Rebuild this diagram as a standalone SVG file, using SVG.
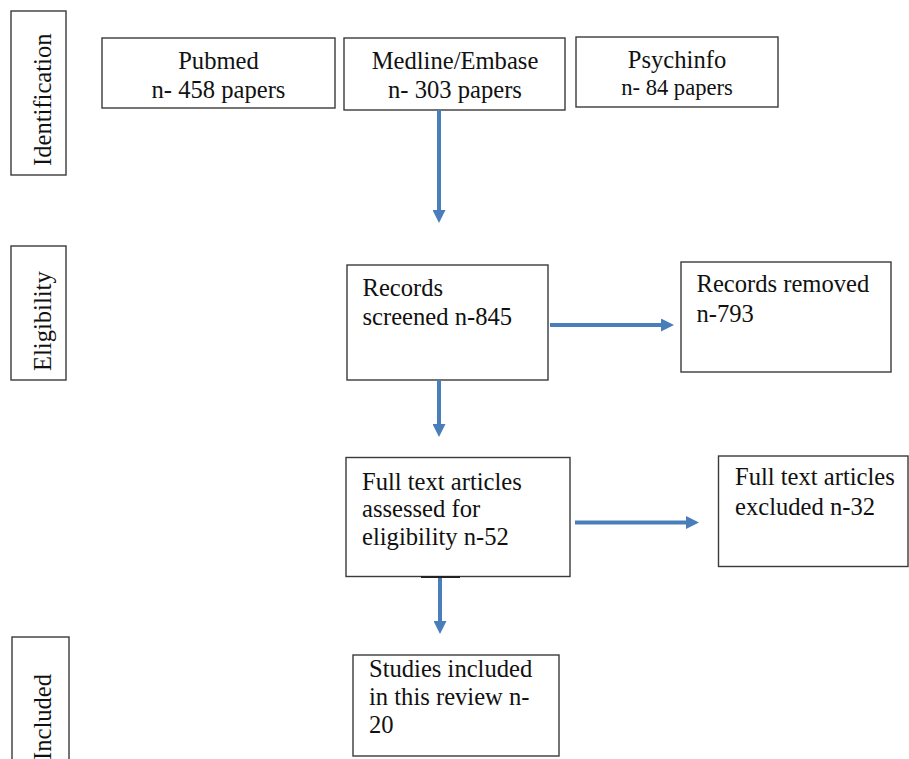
<svg xmlns="http://www.w3.org/2000/svg" width="909" height="759" viewBox="0 0 909 759">
<defs>
<style>
.box{fill:#ffffff;stroke:#3a3a3a;stroke-width:1.4}
.t{font-size:24.6px;fill:#111111}
.c{text-anchor:middle}
.conn{stroke:#4A7EBB;stroke-width:4;fill:none}
</style>
<marker id="ah" markerUnits="userSpaceOnUse" markerWidth="13" markerHeight="13" viewBox="0 0 12 12" refX="0" refY="6" orient="auto">
<path d="M0,0 L12,6 L0,12 z" fill="#4A7EBB"/>
</marker>
</defs>
<rect width="909" height="759" fill="#ffffff"/>
<g font-family="Liberation Serif, Tinos, Times New Roman, DejaVu Serif, serif">
<g id="stage-identification">
<rect class="box" x="11" y="11" width="55" height="164"/>
<text class="t" transform="translate(51,166) rotate(-90)">Identification</text>
</g>
<g id="stage-eligibility">
<rect class="box" x="11" y="246" width="55" height="134"/>
<text class="t" transform="translate(51,371) rotate(-90)">Eligibility</text>
</g>
<g id="stage-included">
<rect class="box" x="12" y="637" width="57" height="130"/>
<text class="t" transform="translate(51,760) rotate(-90)">Included</text>
</g>

<g id="pubmed">
<rect class="box" x="102" y="38" width="233" height="70"/>
<text class="t c" x="218.5" y="69">Pubmed</text>
<text class="t c" x="218.5" y="98">n- 458 papers</text>
</g>
<g id="medline">
<rect class="box" x="344" y="38" width="221" height="72"/>
<text class="t c" x="455" y="69">Medline/Embase</text>
<text class="t c" x="455" y="98">n- 303 papers</text>
</g>
<g id="psychinfo">
<rect class="box" x="576" y="37" width="202" height="70"/>
<text class="t c" x="677" y="68">Psychinfo</text>
<text class="t c" x="677" y="95" style="font-size:22.6px">n- 84 papers</text>
</g>

<g id="screened">
<rect class="box" x="347" y="265" width="201" height="115"/>
<text class="t" x="362.5" y="296">Records</text>
<text class="t" x="362.5" y="325">screened n-845</text>
</g>
<g id="removed">
<rect class="box" x="681" y="262" width="210" height="110"/>
<text class="t" x="696.5" y="292">Records removed</text>
<text class="t" x="696.5" y="322">n-793</text>
</g>
<g id="fulltext">
<rect class="box" x="346" y="457.5" width="224" height="119"/>
<line x1="421" y1="577" x2="460" y2="577" stroke="#222222" stroke-width="2.2"/>
<text class="t" x="362" y="490">Full text articles</text>
<text class="t" x="362" y="517">assessed for</text>
<text class="t" x="362" y="545">eligibility n-52</text>
</g>
<g id="excluded">
<rect class="box" x="718.5" y="456" width="189.5" height="110.5"/>
<text class="t" x="735" y="485">Full text articles</text>
<text class="t" x="735" y="515">excluded n-32</text>
</g>
<g id="included">
<rect class="box" x="353" y="655" width="206" height="101"/>
<text class="t" x="369" y="677">Studies included</text>
<text class="t" x="369" y="705">in this review n-</text>
<text class="t" x="369" y="733">20</text>
</g>
</g>
<g id="connectors">
<line class="conn" x1="439" y1="110" x2="439" y2="210" marker-end="url(#ah)"/>
<line class="conn" x1="439" y1="380" x2="439" y2="424" marker-end="url(#ah)"/>
<line class="conn" x1="550" y1="325" x2="661" y2="325" marker-end="url(#ah)"/>
<line class="conn" x1="575" y1="522.5" x2="686" y2="522.5" marker-end="url(#ah)"/>
<line class="conn" x1="440" y1="578" x2="440" y2="621" marker-end="url(#ah)"/>
</g>
</svg>
